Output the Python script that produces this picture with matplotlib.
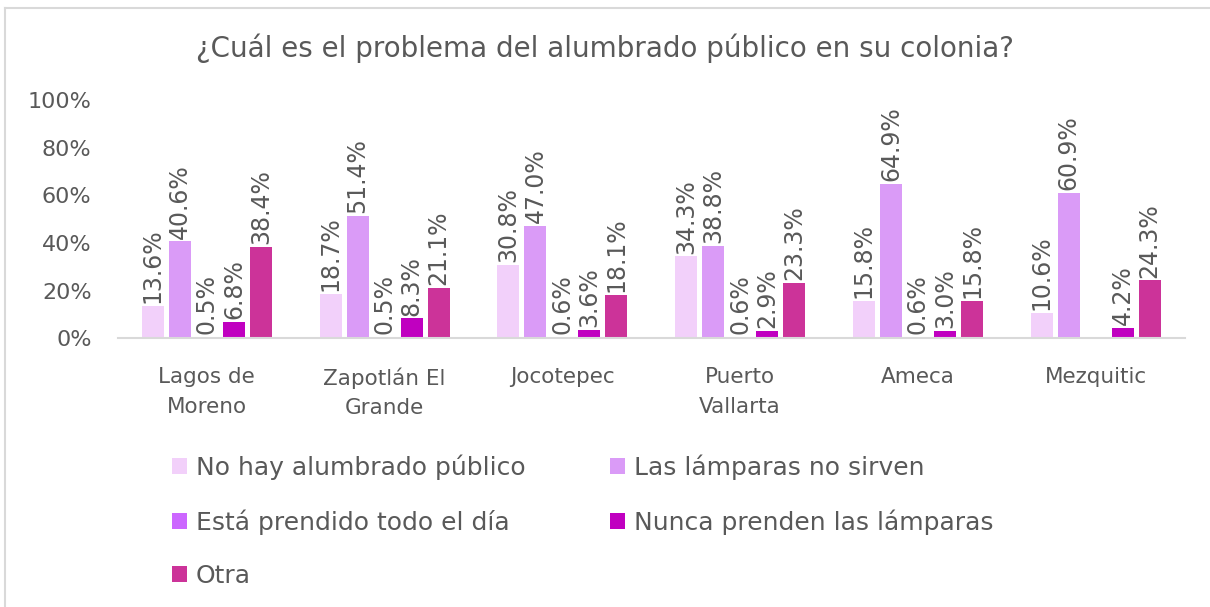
import numpy as np
import matplotlib
matplotlib.use("Agg")
import matplotlib.pyplot as plt
from matplotlib.patches import Patch
from matplotlib.lines import Line2D

plt.rcParams['font.family'] = ['DejaVu Sans']

# data (percent)
categories = ["Lagos de\nMoreno", "Zapotlán El\nGrande", "Jocotepec",
              "Puerto\nVallarta", "Ameca", "Mezquitic"]
series_names = ["No hay alumbrado público", "Las lámparas no sirven",
                "Está prendido todo el día", "Nunca prenden las lámparas", "Otra"]
no_hay = [13.6, 18.7, 30.8, 34.3, 15.8, 10.6]
no_sirven = [40.6, 51.4, 47.0, 38.8, 64.9, 60.9]
prendido = [0.5, 0.5, 0.6, 0.6, 0.6, np.nan]
nunca = [6.8, 8.3, 3.6, 2.9, 3.0, 4.2]
otra = [38.4, 21.1, 18.1, 23.3, 15.8, 24.3]
yticks = [0, 20, 40, 60, 80, 100]

colors = ["#F2D0FA", "#DA9BF7", "#CC66FF", "#C000C0", "#CC3399"]
text_color = "#595959"

values = [no_hay, no_sirven, prendido, nunca, otra]

fig = plt.figure(figsize=(12.1, 6.07), dpi=100)
ax = fig.add_axes([0.0975, 0.443, 0.8815, 0.392])

x = np.arange(len(categories))
width = 0.124
step = 0.152
for i, (vals, col) in enumerate(zip(values, colors)):
    pos = x + (i - 2) * step
    vals = np.array(vals, dtype=float)
    ax.bar(pos, vals, width, color=col, zorder=2)
    for p, v in zip(pos, vals):
        if np.isnan(v):
            continue
        ax.annotate(f"{v:.1f}%", (p, v), xytext=(0, 2), textcoords="offset points",
                    rotation=90, ha="center", va="bottom", fontsize=17,
                    color=text_color, annotation_clip=False)

ax.set_xlim(-0.5, len(categories) - 0.5)
ax.set_ylim(0, 100)
ax.set_yticks(yticks)
ax.set_yticklabels([f"{t}%" for t in yticks], fontsize=16, color=text_color)
ax.set_xticks(x)
ax.set_xticklabels(categories, fontsize=15.5, color=text_color, linespacing=1.6)
ax.tick_params(length=0, axis="both")
ax.tick_params(axis="x", pad=21)
ax.tick_params(axis="y", pad=19)
for s in ["top", "right", "left"]:
    ax.spines[s].set_visible(False)
ax.spines["bottom"].set_color("#D9D9D9")
ax.spines["bottom"].set_linewidth(1.5)

fig.text(0.5, 0.921, "¿Cuál es el problema del alumbrado público en su colonia?",
         ha="center", va="center", fontsize=20, color=text_color)

# legend, row-major order in two columns
handles = [Patch(facecolor=c, edgecolor="none") for c in colors]
order = [0, 2, 4, 1, 3]
fig.legend([handles[i] for i in order], [series_names[i] for i in order],
           ncol=2, loc="upper left", bbox_to_anchor=(0.142, 0.252),
           frameon=False, fontsize=18, labelcolor=text_color,
           handlelength=0.6, handleheight=0.6, handletextpad=0.35,
           columnspacing=3.4, labelspacing=1.18, borderaxespad=0, borderpad=0)

# chart border lines
fig.add_artist(Line2D([0.0045, 0.0045], [0, 0.987], transform=fig.transFigure,
                      color="#D9D9D9", lw=1.5))
fig.add_artist(Line2D([0.0045, 1], [0.987, 0.987], transform=fig.transFigure,
                      color="#D9D9D9", lw=1.5))

fig.savefig("out.png", dpi=100)
